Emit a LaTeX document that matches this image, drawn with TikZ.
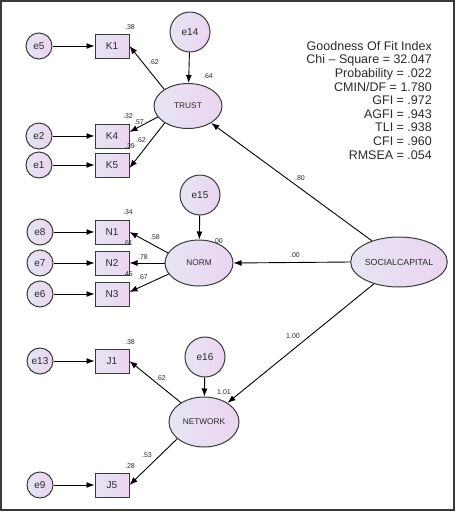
\documentclass[tikz,border=0pt]{standalone}
\usepackage{fontspec}
\setmainfont{Liberation Sans}
\usetikzlibrary{shapes.geometric, arrows.meta}
\definecolor{fillL}{HTML}{E6E5F3}
\definecolor{fillR}{HTML}{EBD4F0}
\definecolor{edge}{HTML}{3A3A3A}
\definecolor{ink}{HTML}{2A2A2A}

\begin{document}
\begin{tikzpicture}[x=1pt, y=-1pt,
  shape base/.style={draw=edge, line width=1pt, left color=fillL, right color=fillR, text=ink, inner sep=0pt},
  obs/.style={shape base, rectangle, minimum width=34, minimum height=24, font=\fontsize{10}{10}\selectfont},
  err/.style={shape base, circle, minimum size=26, font=\fontsize{10}{10}\selectfont},
  bigerr/.style={shape base, circle, minimum size=40, font=\fontsize{10}{10}\selectfont},
  lat/.style={shape base, ellipse, minimum width=68, minimum height=45, font=\fontsize{8.3}{9}\selectfont},
  coef/.style={text=ink, inner sep=0pt, font=\fontsize{7}{7}\selectfont},
  path/.style={line width=0.9pt, -{Latex[length=8pt, width=6pt]}}]
\useasboundingbox (0,0) rectangle (456,512);
\draw[edge, line width=1.4pt] (1,1) rectangle (454,510);

% TRUST block
\node[err] (e5) at (39,46) {e5};
\node[obs] (K1) at (112,46) {K1};
\node[err] (e2) at (39,136) {e2};
\node[obs] (K4) at (112,136) {K4};
\node[err] (e1) at (39,165) {e1};
\node[obs] (K5) at (112,165) {K5};
\node[bigerr] (e14) at (190,32) {e14};
\node[lat] (TRUST) at (188,106) {TRUST};

% NORM block
\node[err] (e8) at (40,232) {e8};
\node[obs] (N1) at (112,232) {N1};
\node[err] (e7) at (40,263) {e7};
\node[obs] (N2) at (112,263) {N2};
\node[err] (e6) at (40,294) {e6};
\node[obs] (N3) at (112,294) {N3};
\node[bigerr] (e15) at (200,195) {e15};
\node[lat, minimum height=46] (NORM) at (199,263) {NORM};

% NETWORK block
\node[err] (e13) at (40,361) {e13};
\node[obs] (J1) at (112,361) {J1};
\node[err] (e9) at (40,485) {e9};
\node[obs] (J5) at (112,485) {J5};
\node[bigerr] (e16) at (205,357) {e16};
\node[lat, minimum width=70, minimum height=50] (NETWORK) at (204,422) {NETWORK};

\node[lat, minimum width=72, minimum height=50, font=\fontsize{8.8}{9}\selectfont] (SC) at (399,262) {SOCIALCAPITAL};

% errors to indicators
\foreach \e/\v in {e5/K1, e2/K4, e1/K5, e8/N1, e7/N2, e6/N3, e13/J1, e9/J5}
  \draw[path] (\e.east) -- (\v.west);
\foreach \e/\v in {e14/TRUST, e15/NORM, e16/NETWORK}
  \draw[path] (\e) -- (\v);

% loadings
\draw[path] (TRUST.145) -- (K1.east);
\draw[path] (TRUST.200) -- ([yshift=4]K4.east);
\draw[path] (TRUST.216) -- ([yshift=-3]K5.east);
\draw[path] (NORM.162) -- (N1.east);
\draw[path] (NORM.west) -- (N2.east);
\draw[path] (NORM.200) -- ([yshift=2]N3.east);
\draw[path] (NETWORK.140) -- (J1.east);
\draw[path] (NETWORK.212) -- (J5.east);

% second order
\draw[path] (SC.142) -- (TRUST);
\draw[path] (SC.west) -- (NORM.east);
\draw[path] (SC.221) -- (NETWORK);

% estimates
\node[coef] (r1) at (130,27) {.38};
\node[coef] (l1) at (154,62) {.62};
\node[coef] (r2) at (208,76) {.64};
\node[coef] (r3) at (128,116) {.32};
\node[coef] (l2) at (139,122) {.57};
\node[coef] (l3) at (141,140) {.62};
\node[coef] (r4) at (130,146) {.39};
\node[coef] (r5) at (128,212) {.34};
\node[coef] (l4) at (155,237) {.58};
\node[coef] (r6) at (128,243) {.61};
\node[coef] (l5) at (143,257) {.78};
\node[coef] (r7) at (128,274) {.45};
\node[coef] (l6) at (143,277) {.67};
\node[coef] (r8) at (218,241) {.00};
\node[coef] (g1) at (300,178) {.80};
\node[coef] (g2) at (295,255) {.00};
\node[coef] (g3) at (293,336) {1.00};
\node[coef] (r9) at (130,342) {.38};
\node[coef] (l7) at (161,378) {.62};
\node[coef] (r10) at (224,392) {1.01};
\node[coef] (l8) at (147,455) {.53};
\node[coef] (r11) at (130,466) {.28};

% fit indices
\node[text=ink, anchor=north east, align=right, inner sep=0pt,
  font=\fontsize{12.5}{13.6}\selectfont] (fit) at (432,41)
  {Goodness Of Fit Index\\ Chi -- Square = 32.047\\ Probability = .022\\
   CMIN/DF = 1.780\\ GFI = .972\\ AGFI = .943\\ TLI = .938\\ CFI = .960\\ RMSEA = .054};
\end{tikzpicture}
\end{document}
